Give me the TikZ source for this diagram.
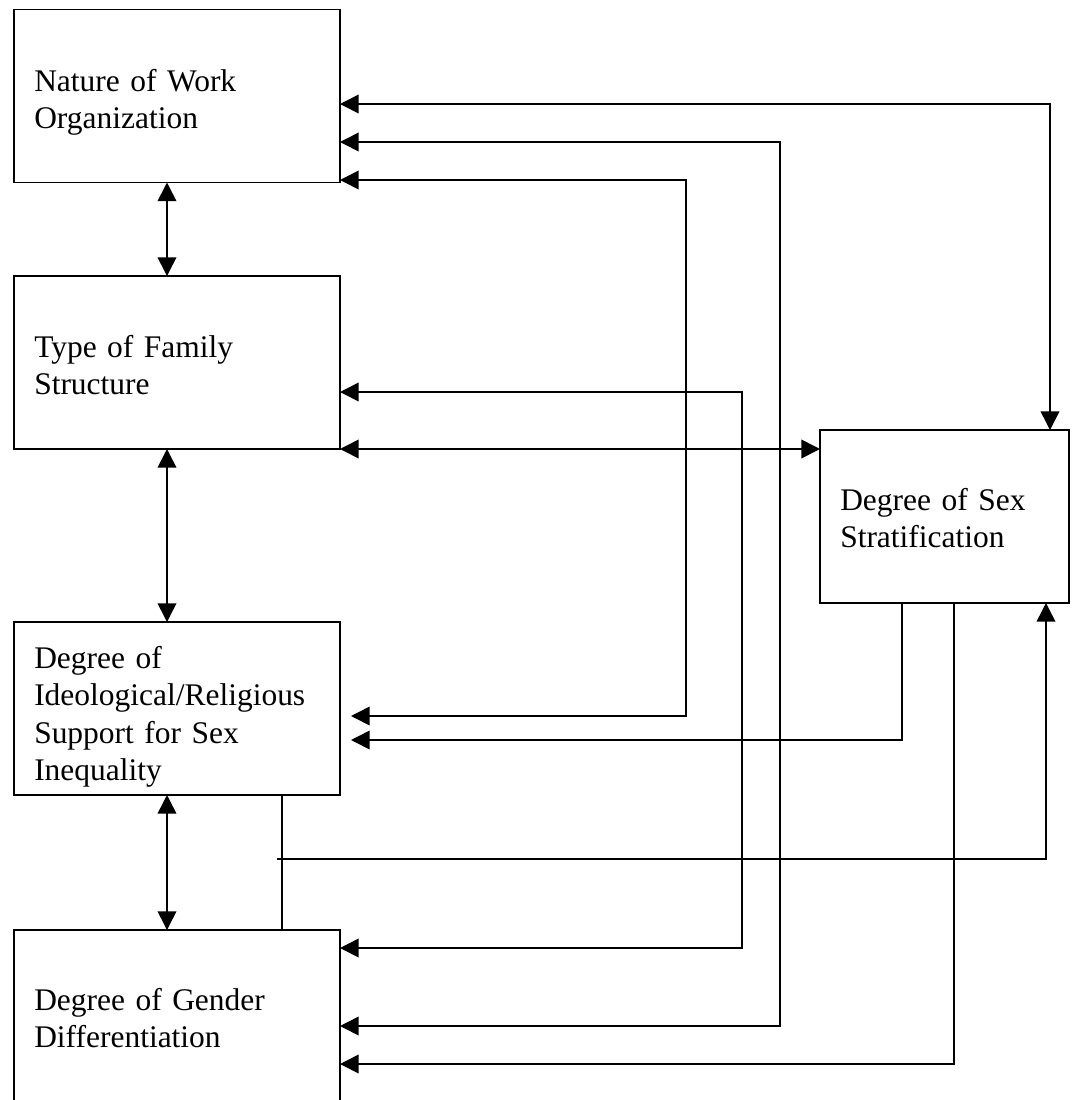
\documentclass[tikz,border=0pt]{standalone}
\usepackage{fontspec}
\setmainfont{Liberation Serif}
\usetikzlibrary{arrows.meta}

\begin{document}
\begin{tikzpicture}[x=0.75pt,y=0.75pt,yscale=-1,xscale=1,
  box/.style={draw, line width=1.2pt, rectangle, outer sep=0pt, inner sep=0pt, minimum width=244.5pt, minimum height=129.75pt},
  lbl/.style={anchor=base west, inner sep=0pt, text width=230pt, align=left, font=\fontsize{23.6}{28.2}\selectfont},
  link/.style={line width=1.2pt},
  onearr/.style={link, -{Triangle[length=14pt,width=14pt]}},
  twoarr/.style={link, {Triangle[length=14pt,width=14pt]}-{Triangle[length=14pt,width=14pt]}}]
%set diagram left start at 0, and has height of 1100
\useasboundingbox (0,0) rectangle (1078,1100);

%Shape: Rectangle
\node [box] (nature) at (177,96) {};
%Shape: Rectangle
\node [box] (type) at (177,362.5) {};
%Shape: Rectangle
\node [box] (ideo) at (177,708.5) {};
%Shape: Rectangle
\node [box] (gender) at (177,1016.5) {};
%Shape: Rectangle
\node [box, minimum width=186.75pt] (strat) at (944.5,516.5) {};

% Text Node
\node [lbl] (natureT) at (34,91) {Nature of Work\\Organization};
% Text Node
\node [lbl] (typeT) at (34,357) {Type of Family\\Structure};
% Text Node
\node [lbl] (ideoT) at (34,668) {Degree of\\Ideological/Religious\\Support for Sex\\Inequality};
% Text Node
\node [lbl] (genderT) at (34,1010) {Degree of Gender\\Differentiation};
% Text Node
\node [lbl, text width=170pt] (stratT) at (840,510) {Degree of Sex\\Stratification};

% bend points
\coordinate (col) at (167,0);
\coordinate (k1) at (1050,104);
\coordinate (k2) at (780,142);
\coordinate (k2b) at (780,1026);
\coordinate (k3) at (686,180);
\coordinate (k3b) at (686,716);
\coordinate (k4) at (742,392);
\coordinate (k4b) at (742,948);
\coordinate (k6) at (902,740);
\coordinate (k7) at (954,1064);
\coordinate (k8) at (282,859);
\coordinate (k9) at (277,859);
\coordinate (k9b) at (1046,859);
\coordinate (ideoR) at ([xshift=8.25pt]ideo.east);

%Straight Lines
\draw [twoarr] (nature.south -| col) -- (type.north -| col);
%Straight Lines
\draw [twoarr] (type.south -| col) -- (ideo.north -| col);
%Straight Lines
\draw [twoarr] (ideo.south -| col) -- (gender.north -| col);
%Straight Lines
\draw [twoarr] (nature.east |- k1) -- (k1) -- (strat.north -| k1);
%Straight Lines
\draw [twoarr] (nature.east |- k2) -- (k2) -- (k2b) -- (gender.east |- k2b);
%Straight Lines
\draw [twoarr] (nature.east |- k3) -- (k3) -- (k3b) -- (ideoR |- k3b);
%Straight Lines
\draw [twoarr] (type.east |- k4) -- (k4) -- (k4b) -- (gender.east |- k4b);
%Straight Lines
\draw [twoarr] (type.south east) -- (strat.west |- type.south east);
%Straight Lines
\draw [onearr] (strat.south -| k6) -- (k6) -- (ideoR |- k6);
%Straight Lines
\draw [onearr] (strat.south -| k7) -- (k7) -- (gender.east |- k7);
%Straight Lines
\draw [link] (ideo.south -| k8) -- (gender.north -| k8);
%Straight Lines
\draw [onearr] (k9) -- (k9b) -- (strat.south -| k9b);

\end{tikzpicture}
\end{document}
